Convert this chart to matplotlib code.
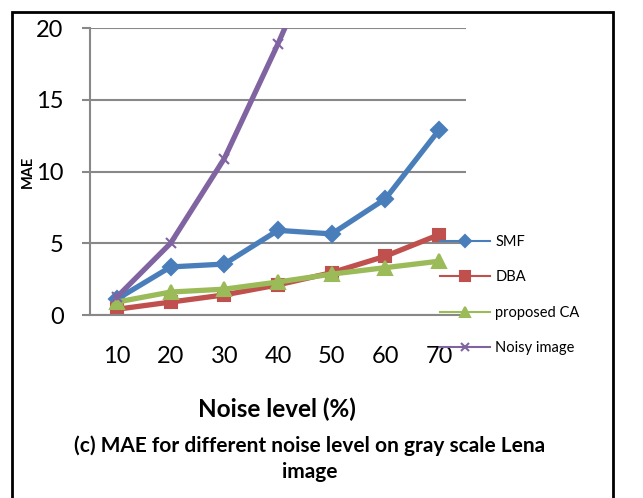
import numpy as np
import matplotlib
matplotlib.use("Agg")
import matplotlib.pyplot as plt
import matplotlib.lines as mlines
from matplotlib.patches import Rectangle

plt.rcParams['font.family'] = ['Lato', 'DejaVu Sans']

# data
noise_levels = ['10', '20', '30', '40', '50', '60', '70']
smf = [1.1, 3.35, 3.55, 5.9, 5.65, 8.1, 12.9]
dba = [0.4, 0.9, 1.4, 2.1, 2.95, 4.1, 5.6]
proposed_ca = [0.9, 1.6, 1.8, 2.3, 2.85, 3.3, 3.75]
noisy_image = [1.25, 5.0, 10.9, 18.9, 27.5, np.nan, np.nan]

W, H = 643, 498
fig = plt.figure(figsize=(W / 100, H / 100), dpi=100)
ax = fig.add_axes([90 / W, 1 - 315 / H, (466 - 90) / W, (315 - 28) / H])

x = np.arange(len(noise_levels))
series = [
    ('SMF', smf, '#4A7EBB', 'D', 8),
    ('DBA', dba, '#C0504D', 's', 9),
    ('proposed CA', proposed_ca, '#9BBB59', '^', 10),
    ('Noisy image', noisy_image, '#8064A2', 'x', 7),
]
handles = []
for name, vals, col, mk, ms in series:
    ax.plot(x, vals, color=col, lw=3.8, marker=mk, ms=ms, mew=1.5,
            solid_joinstyle='round', clip_on=True)
    handles.append(mlines.Line2D([], [], color=col, lw=1.5, marker=mk,
                                 ms=ms * 0.75, mew=1.5, label=name))

ax.set_xlim(-0.5, 6.5)
ax.set_ylim(0, 20)
ax.set_yticks([0, 5, 10, 15, 20])
ax.set_xticks(x)
ax.set_xticklabels(noise_levels)
ax.tick_params(axis='y', labelsize=17, length=6, width=1.5, color='#888888', pad=13)
ax.tick_params(axis='x', labelsize=17, length=0, pad=22)
ax.grid(axis='y', color='#888888', lw=1.5)
ax.set_axisbelow(True)
for s in ['top', 'right']:
    ax.spines[s].set_visible(False)
for s in ['left', 'bottom']:
    ax.spines[s].set_color('#888888')
    ax.spines[s].set_linewidth(1.5)

fig.text(28 / W, 1 - 172 / H, 'MAE', rotation=90, fontsize=10.5, fontweight='bold',
         ha='center', va='center')
fig.text(277 / W, 1 - 409 / H, 'Noise level (%)', fontsize=17.5, fontweight='bold',
         ha='center', va='center')
fig.text(310 / W, 1 - 459 / H,
         '(c) MAE for different noise level on gray scale Lena\nimage',
         fontsize=15, fontweight='bold', ha='center', va='center',
         linespacing=1.35)

fig.legend(handles=handles, loc='center left',
           bbox_to_anchor=(440 / W, 1 - 295 / H), frameon=False,
           fontsize=10.5, handlelength=3.4, handletextpad=0.4,
           labelspacing=1.47, borderpad=0, borderaxespad=0)

fig.patches.append(Rectangle((12 / W, -0.05), (613 - 12) / W, 1 - 12 / H + 0.05,
                             transform=fig.transFigure, fill=False,
                             edgecolor='black', lw=2))

fig.savefig('out.png', dpi=100)
